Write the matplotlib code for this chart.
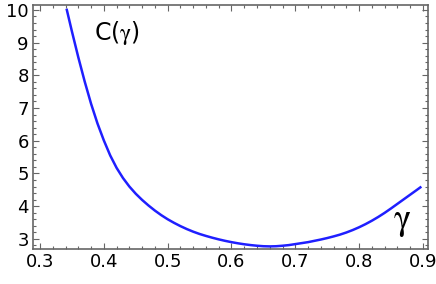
import matplotlib.pyplot as plt
from matplotlib.ticker import MultipleLocator

plt.rcParams["mathtext.fontset"] = "stix"

# values
gamma = [0.342, 0.35, 0.36, 0.37, 0.38, 0.39, 0.40, 0.41, 0.42, 0.43,
         0.44, 0.45, 0.46, 0.47, 0.48, 0.49, 0.50, 0.51, 0.52, 0.53,
         0.54, 0.55, 0.56, 0.57, 0.58, 0.59, 0.60, 0.61, 0.62, 0.63,
         0.64, 0.65, 0.66, 0.67, 0.68, 0.69, 0.70, 0.71, 0.72, 0.73,
         0.74, 0.75, 0.76, 0.77, 0.78, 0.79, 0.80, 0.81, 0.82, 0.83,
         0.84, 0.85, 0.86, 0.87, 0.88, 0.89, 0.896]
c_gamma = [10.0, 9.34, 8.55, 7.81, 7.13, 6.53, 6.01, 5.55, 5.17, 4.86,
           4.60, 4.38, 4.19, 4.02, 3.865, 3.725, 3.60, 3.49, 3.39, 3.30,
           3.22, 3.15, 3.09, 3.035, 2.985, 2.94, 2.90, 2.865, 2.835, 2.81,
           2.79, 2.775, 2.77, 2.775, 2.79, 2.81, 2.84, 2.87, 2.90, 2.94,
           2.98, 3.025, 3.075, 3.13, 3.195, 3.27, 3.355, 3.45, 3.555, 3.67,
           3.795, 3.93, 4.07, 4.21, 4.35, 4.49, 4.575]

xticks = [0.3, 0.4, 0.5, 0.6, 0.7, 0.8, 0.9]
yticks = [3, 4, 5, 6, 7, 8, 9, 10]

fig = plt.figure(figsize=(4.36, 2.84), dpi=100)
ax = fig.add_axes([0.0757, 0.1232, 0.906, 0.8592])

ax.plot(gamma, c_gamma, color="#1f1fff", linewidth=1.8)

ax.set_xlim(0.289, 0.908)
ax.set_ylim(2.69, 10.15)
ax.set_xticks(xticks)
ax.set_yticks(yticks)
ax.set_xticklabels([f"{t:.1f}" for t in xticks])
ax.set_yticklabels([str(t) for t in yticks])
ax.xaxis.set_minor_locator(MultipleLocator(0.02))
ax.yaxis.set_minor_locator(MultipleLocator(0.2))

grey = "#666666"
for s in ax.spines.values():
    s.set_color(grey)
    s.set_linewidth(1.2)
ax.tick_params(which="both", direction="in", top=True, right=True,
               color=grey, width=0.8, labelsize=13, labelcolor="black")
ax.tick_params(which="major", length=4, pad=3)
ax.tick_params(which="minor", length=2)

# annotations
ax.text(0.385, 9.3, r"C($\mathrm{\gamma}$)", fontsize=17, ha="left", va="center")
ax.text(0.867, 3.52, r"$\mathrm{\gamma}$", fontsize=26, ha="center", va="center")

fig.savefig("out.png", dpi=100)
